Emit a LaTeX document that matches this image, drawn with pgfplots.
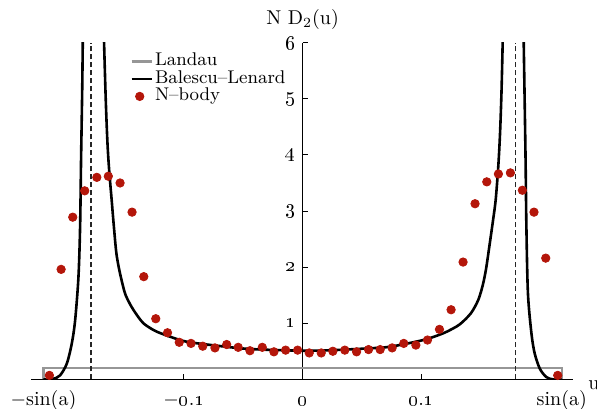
\documentclass[border=0pt]{standalone}
\usepackage{pgfplots}
\pgfplotsset{compat=1.18}
\newcommand\os[1]{\oldstylenums{#1}}
\definecolor{nbody}{RGB}{180,22,10}
\definecolor{landau}{RGB}{150,150,150}
\pgfplotsset{
  shortline/.style={legend image code/.code={\draw[##1] (0pt,0pt) -- (10pt,0pt);}},
  dotlegend/.style={legend image code/.code={\fill[nbody] (4pt,0pt) circle (2.1pt);}},
}
\begin{document}
\begin{tikzpicture}
\begin{axis}[
  scale only axis, width=271pt, height=168.3pt,
  xmin=-0.229, xmax=0.228, ymin=0, ymax=6,
  axis lines=middle,
  every inner x axis line/.append style={-},
  every inner y axis line/.append style={-},
  axis line style={line width=0.6pt},
  hide obscured x ticks=false, hide obscured y ticks=false,
  xtick={-0.2185,-0.1,0,0.1,0.2185},
  xticklabels={$-$sin(a), $-$\os{0}.\os{1}, \os{0}, \os{0}.\os{1}, sin(a)},
  ytick={1,2,3,4,5,6},
  yticklabels={\os{1},\os{2},\os{3},\os{4},\os{5},\os{6}},
  tick align=inside, major tick length=2.5pt,
  tick style={line width=0.5pt, black},
  xticklabel style={anchor=base, yshift=-13pt},
  every axis y label/.style={at={(axis cs:0,6)}, anchor=south, yshift=3pt},
  every axis x label/.style={at={(axis cs:0.228,0)}, anchor=base west, xshift=4.2pt, yshift=-5pt},
  ylabel={N D\textsubscript{2}(u)},
  xlabel={u},
  clip mode=individual,
  legend style={at={(axis cs:-0.1455,5.83)}, anchor=north west, draw=none, fill=none,
    inner sep=0pt, font=\fontsize{9.2}{10}\selectfont, row sep=0pt,
    nodes={inner xsep=1pt, inner ysep=0pt, text height=6.5pt, text depth=2.25pt}},
  legend cell align=left,
]
\addlegendimage{landau, line width=1.1pt, shortline}
\addlegendentry{Landau}
\addlegendimage{black, line width=1.3pt, shortline}
\addlegendentry{Balescu--Lenard}
\addlegendimage{nbody, dotlegend}
\addlegendentry{N--body}

% Landau
\addplot[landau, line width=1.1pt, forget plot] coordinates {(-0.2185,0) (-0.2185,0.2) (0.2185,0.2) (0.2185,0)};
% resonance positions
\addplot[black!85, line width=0.6pt, dash pattern=on 2.5pt off 1.5pt, forget plot] coordinates {(-0.1784,0) (-0.1784,6)};
\addplot[black!85, line width=0.6pt, dash pattern=on 2.5pt off 1.5pt, forget plot] coordinates {(0.1796,0) (0.1796,6)};
% Balescu-Lenard
\addplot[black, line width=1.3pt, smooth, tension=0.5, forget plot] coordinates {
(-0.2185,0) (-0.214,0.0) (-0.210,0.01) (-0.2045,0.07) (-0.1988,0.28) (-0.1946,0.64)
(-0.1918,1.05) (-0.189,1.82) (-0.1876,2.72) (-0.1868,3.9) (-0.1858,5.2) (-0.1852,6.3)};
\addplot[black, line width=1.3pt, smooth, tension=0.5, forget plot] coordinates {
(-0.1678,6.3) (-0.1660,5.0) (-0.1645,4.2) (-0.1630,3.7) (-0.1610,3.2) (-0.1596,2.84)
(-0.1573,2.30) (-0.1555,2.05) (-0.1530,1.80) (-0.1497,1.53) (-0.1460,1.36) (-0.1427,1.24)
(-0.1385,1.11) (-0.1343,1.00) (-0.1290,0.92) (-0.1230,0.85)
(-0.1118,0.76) (-0.0977,0.67) (-0.0725,0.60) (-0.0444,0.54) (0,0.51) (0.0255,0.52)
(0.054,0.55) (0.0735,0.58) (0.1016,0.70) (0.1185,0.82) (0.1297,0.94) (0.1342,1.01)
(0.1382,1.09) (0.1420,1.18) (0.1452,1.29) (0.1482,1.42) (0.1508,1.59) (0.1530,1.78)
(0.1550,2.01) (0.1578,2.42) (0.1606,2.84) (0.1628,3.20)
(0.1650,3.8) (0.1665,4.4) (0.1678,5.2) (0.1690,6.3)};
\addplot[black, line width=1.3pt, smooth, tension=0.5, forget plot] coordinates {
(0.1862,6.3) (0.1872,5.0) (0.188,3.91) (0.1887,2.71) (0.190,1.53) (0.193,0.81)
(0.1957,0.46) (0.200,0.19) (0.2055,0.04) (0.211,0.0) (0.2185,0)};
% N-body
\addplot[only marks, mark=*, mark size=2.1pt, nbody, forget plot] coordinates {
(-0.2135,0.07) (-0.2036,1.96) (-0.1938,2.89) (-0.1837,3.36) (-0.1735,3.60) (-0.1638,3.62)
(-0.1539,3.50) (-0.1438,2.98) (-0.1339,1.83) (-0.1238,1.08) (-0.1139,0.83) (-0.1040,0.66)
(-0.0941,0.64) (-0.0842,0.59) (-0.0739,0.56) (-0.0640,0.62) (-0.0543,0.57) (-0.0444,0.51)
(-0.0340,0.57) (-0.0242,0.49) (-0.0143,0.52) (-0.0042,0.52)
(0.0056,0.47) (0.0157,0.47) (0.0255,0.50) (0.0356,0.52) (0.0455,0.49) (0.0556,0.53)
(0.0654,0.53) (0.0755,0.56) (0.0853,0.64) (0.0955,0.61) (0.1053,0.70) (0.1154,0.89)
(0.1252,1.24) (0.1353,2.09) (0.1454,3.13) (0.1553,3.52) (0.1651,3.66) (0.1752,3.68)
(0.1853,3.37) (0.1951,2.98) (0.2050,2.16) (0.2151,0.07)};
\end{axis}
\pgfresetboundingbox
\path (-15.5pt,-14.35pt) rectangle (283pt,189.65pt);
\end{tikzpicture}
\end{document}
